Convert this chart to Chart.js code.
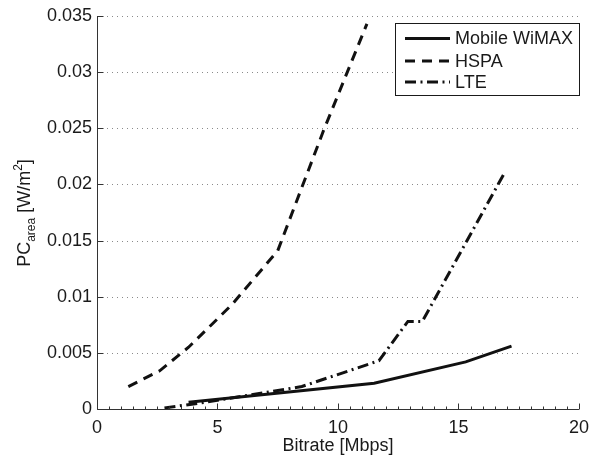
<!DOCTYPE html>
<html>
<head>
<meta charset="utf-8">
<script src="https://cdn.jsdelivr.net/npm/chart.js@4/dist/chart.umd.min.js"></script>
<style>
  html, body { margin: 0; padding: 0; background: #fff; }
  #c { display: block; }
</style>
</head>
<body>
<canvas id="c" width="597" height="456"></canvas>
<script>
// Area power consumption vs. bitrate for three radio technologies
const seriesNames = ['Mobile WiMAX', 'HSPA', 'LTE'];

const wimaxBitrate = [3.8, 11.5, 15.3, 17.2];
const wimaxPC      = [0.0006, 0.0023, 0.0042, 0.0056];

const hspaBitrate = [1.3, 2.6, 3.8, 5.6, 7.5, 9.4, 11.2];
const hspaPC      = [0.0020, 0.0034, 0.0055, 0.0093, 0.0141, 0.0248, 0.0343];

const lteBitrate = [2.8, 4.2, 8.5, 11.7, 12.9, 13.5, 16.9];
const ltePC      = [0.0001, 0.0005, 0.0020, 0.0043, 0.0078, 0.0078, 0.0210];

const xTicks = [0, 5, 10, 15, 20];
const yTicks = [0, 0.005, 0.01, 0.015, 0.02, 0.025, 0.03, 0.035];

const FONT = "'Liberation Sans', Arial, Helvetica, sans-serif";
const INK = '#1a1a1a';

const pts = (xs, ys) => xs.map((x, i) => ({ x, y: ys[i] }));

// MATLAB-style axes: dotted y grid, inward major/minor ticks, left + bottom spines
const axesPlugin = {
  id: 'axesPlugin',
  beforeDatasetsDraw(chart) {
    const { ctx, chartArea: a, scales: { y } } = chart;
    ctx.save();
    ctx.strokeStyle = '#8a8a8a';
    ctx.lineWidth = 1;
    ctx.setLineDash([1, 4]);
    yTicks.forEach(v => {
      if (v === 0) return;
      const py = Math.round(y.getPixelForValue(v)) + 0.5;
      ctx.beginPath();
      ctx.moveTo(a.left, py);
      ctx.lineTo(a.right, py);
      ctx.stroke();
    });
    ctx.restore();
  },
  afterDatasetsDraw(chart) {
    const { ctx, chartArea: a, scales: { x, y } } = chart;
    const left = Math.round(a.left) + 0.5;
    const bottom = Math.round(a.bottom) + 0.5;
    ctx.save();
    ctx.strokeStyle = '#333';
    ctx.lineWidth = 1;
    ctx.setLineDash([]);
    ctx.beginPath();
    ctx.moveTo(left, a.top);
    ctx.lineTo(left, bottom);
    ctx.lineTo(a.right, bottom);
    ctx.stroke();
    // minor x ticks every 0.5
    ctx.beginPath();
    for (let v = 0; v <= 20.0001; v += 0.5) {
      const px = Math.round(x.getPixelForValue(v)) + 0.5;
      const len = (Math.abs(v % 5) < 1e-6) ? 6 : 3;
      ctx.moveTo(px, bottom);
      ctx.lineTo(px, bottom - len);
    }
    // major y ticks
    yTicks.forEach(v => {
      const py = Math.round(y.getPixelForValue(v)) + 0.5;
      ctx.moveTo(left, py);
      ctx.lineTo(left + 6, py);
    });
    ctx.stroke();
    ctx.restore();
  },
  afterDraw(chart) {
    const { ctx, chartArea: a } = chart;
    ctx.save();
    ctx.fillStyle = INK;
    // x axis title
    ctx.font = `18px ${FONT}`;
    ctx.textAlign = 'center';
    ctx.textBaseline = 'alphabetic';
    ctx.fillText('Bitrate [Mbps]', (a.left + a.right) / 2, 451);

    // y axis title with subscript and superscript, rotated
    const parts = [
      { t: 'PC', size: 18, dy: 0 },
      { t: 'area', size: 12, dy: 5 },
      { t: ' [W/m', size: 18, dy: 0 },
      { t: '2', size: 12, dy: -8 },
      { t: ']', size: 18, dy: 0 }
    ];
    let total = 0;
    parts.forEach(p => { ctx.font = `${p.size}px ${FONT}`; p.w = ctx.measureText(p.t).width; total += p.w; });
    ctx.translate(30, 213);
    ctx.rotate(-Math.PI / 2);
    ctx.textAlign = 'left';
    let cx = -total / 2;
    parts.forEach(p => {
      ctx.font = `${p.size}px ${FONT}`;
      ctx.fillText(p.t, cx, p.dy);
      cx += p.w;
    });
    ctx.restore();

    // legend box
    const bx = 395.5, by = 23.5, bw = 184, bh = 72;
    ctx.save();
    ctx.fillStyle = '#fff';
    ctx.fillRect(bx, by, bw, bh);
    ctx.strokeStyle = INK;
    ctx.lineWidth = 1;
    ctx.strokeRect(bx, by, bw, bh);
    const rows = [38.5, 61, 82];
    chart.data.datasets.forEach((ds, i) => {
      ctx.strokeStyle = ds.borderColor;
      ctx.lineWidth = ds.borderWidth;
      ctx.setLineDash(ds.borderDash || []);
      ctx.beginPath();
      ctx.moveTo(405, rows[i]);
      ctx.lineTo(450, rows[i]);
      ctx.stroke();
      ctx.setLineDash([]);
      ctx.fillStyle = INK;
      ctx.font = `18px ${FONT}`;
      ctx.textAlign = 'left';
      ctx.textBaseline = 'middle';
      ctx.fillText(ds.label, 455, rows[i] + 1);
    });
    ctx.restore();
  }
};

new Chart(document.getElementById('c'), {
  type: 'scatter',
  data: {
    datasets: [
      { label: seriesNames[0], data: pts(wimaxBitrate, wimaxPC), borderDash: [] },
      { label: seriesNames[1], data: pts(hspaBitrate, hspaPC), borderDash: [10, 7] },
      { label: seriesNames[2], data: pts(lteBitrate, ltePC), borderDash: [11, 4.5, 2, 4.5] }
    ].map(d => Object.assign(d, {
      showLine: true,
      borderColor: '#111',
      borderWidth: 3,
      pointRadius: 0,
      pointHoverRadius: 0,
      tension: 0,
      fill: false
    }))
  },
  options: {
    responsive: false,
    devicePixelRatio: 1,
    animation: false,
    events: [],
    layout: { padding: { top: 16, right: 10, left: 0, bottom: 0 } },
    plugins: { legend: { display: false }, tooltip: { enabled: false } },
    scales: {
      x: {
        type: 'linear', min: 0, max: 20,
        afterBuildTicks: s => { s.ticks = xTicks.map(v => ({ value: v })); },
        afterFit: s => { s.height = 47; },
        grid: { display: false, drawTicks: false },
        border: { display: false },
        ticks: {
          padding: 8, maxRotation: 0, autoSkip: false,
          color: INK, font: { family: FONT, size: 18 },
          callback: v => String(v)
        }
      },
      y: {
        type: 'linear', min: 0, max: 0.035,
        afterBuildTicks: s => { s.ticks = yTicks.map(v => ({ value: v })); },
        afterFit: s => { s.width = 97; },
        grid: { display: false, drawTicks: false },
        border: { display: false },
        ticks: {
          padding: 5, autoSkip: false,
          color: INK, font: { family: FONT, size: 18 },
          callback: v => String(Number(v.toFixed(3)))
        }
      }
    }
  },
  plugins: [axesPlugin]
});
</script>
</body>
</html>
